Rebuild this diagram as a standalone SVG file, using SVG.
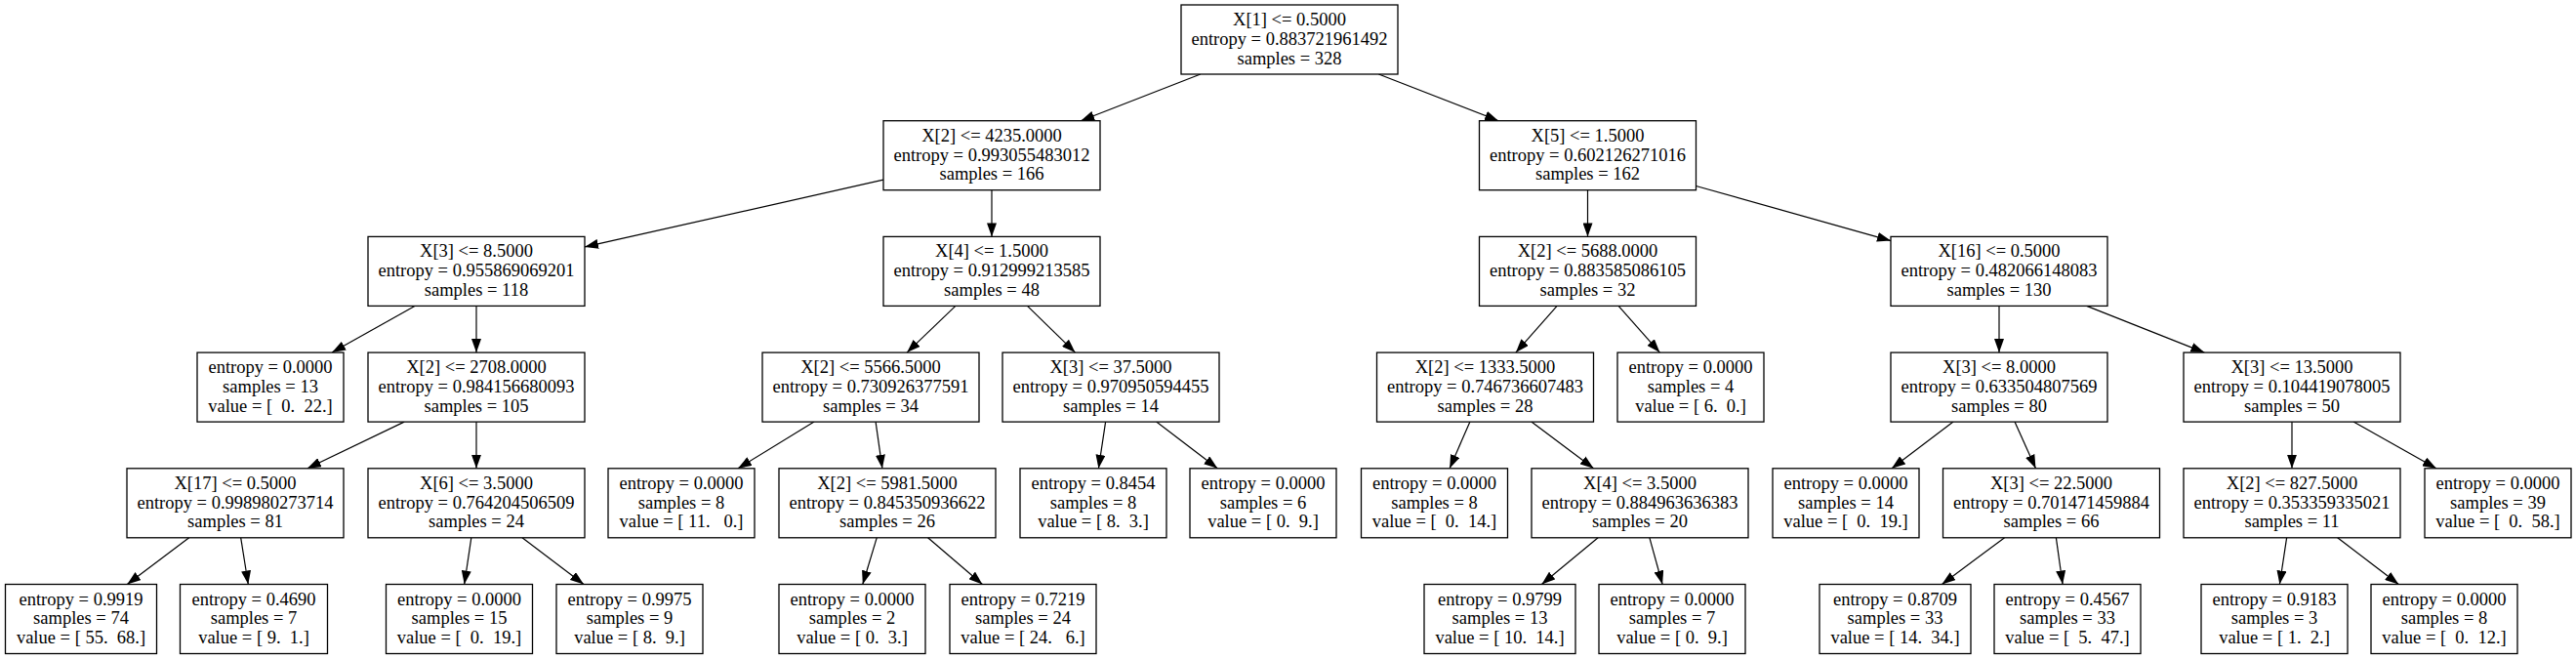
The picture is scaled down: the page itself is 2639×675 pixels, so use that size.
<svg xmlns="http://www.w3.org/2000/svg" width="2639" height="675" viewBox="0 0 2639 675">
<style>
.b{fill:#fff;stroke:#000;stroke-width:1.3}
text{font-family:"Liberation Serif","Times New Roman",serif;font-size:18.5px;fill:#000;text-anchor:middle;white-space:pre}
.e line{stroke:#000;stroke-width:1.2}
</style>
<defs>
<marker id="ah" viewBox="0 0 14 10" refX="14" refY="5" markerWidth="14" markerHeight="10" markerUnits="userSpaceOnUse" orient="auto">
<path d="M0,0 L14,5 L0,10 z" fill="#000"/>
</marker>
</defs>
<rect width="2639" height="675" fill="#fff"/>
<g id="connectors" class="e" marker-end="url(#ah)">
<line x1="1229.8" y1="76" x2="1107.2" y2="123.7" marker-end="url(#ah)"/>
<line x1="1412.4" y1="76" x2="1535.1" y2="123.7" marker-end="url(#ah)"/>
<line x1="905" y1="184.2" x2="599" y2="252.9" marker-end="url(#ah)"/>
<line x1="1016" y1="194.7" x2="1016" y2="242.4" marker-end="url(#ah)"/>
<line x1="1626.5" y1="194.7" x2="1626.5" y2="242.4" marker-end="url(#ah)"/>
<line x1="1737.5" y1="190.5" x2="1937" y2="246.6" marker-end="url(#ah)"/>
<line x1="424.9" y1="313.4" x2="340.1" y2="361.1" marker-end="url(#ah)"/>
<line x1="488" y1="313.4" x2="488" y2="361.1" marker-end="url(#ah)"/>
<line x1="978.9" y1="313.4" x2="929.1" y2="361.1" marker-end="url(#ah)"/>
<line x1="1052.5" y1="313.4" x2="1101.5" y2="361.1" marker-end="url(#ah)"/>
<line x1="1595.1" y1="313.4" x2="1552.9" y2="361.1" marker-end="url(#ah)"/>
<line x1="1658.1" y1="313.4" x2="1700.4" y2="361.1" marker-end="url(#ah)"/>
<line x1="2048" y1="313.4" x2="2048" y2="361.1" marker-end="url(#ah)"/>
<line x1="2137.7" y1="313.4" x2="2258.3" y2="361.1" marker-end="url(#ah)"/>
<line x1="414.1" y1="432.1" x2="314.9" y2="479.8" marker-end="url(#ah)"/>
<line x1="488" y1="432.1" x2="488" y2="479.8" marker-end="url(#ah)"/>
<line x1="834" y1="432.1" x2="756" y2="479.8" marker-end="url(#ah)"/>
<line x1="897.1" y1="432.1" x2="903.9" y2="479.8" marker-end="url(#ah)"/>
<line x1="1132.6" y1="432.1" x2="1125.4" y2="479.8" marker-end="url(#ah)"/>
<line x1="1184.7" y1="432.1" x2="1247.3" y2="479.8" marker-end="url(#ah)"/>
<line x1="1505.9" y1="432.1" x2="1485.1" y2="479.8" marker-end="url(#ah)"/>
<line x1="1568.9" y1="432.1" x2="1632.6" y2="479.8" marker-end="url(#ah)"/>
<line x1="2001" y1="432.1" x2="1938" y2="479.8" marker-end="url(#ah)"/>
<line x1="2064" y1="432.1" x2="2085.5" y2="479.8" marker-end="url(#ah)"/>
<line x1="2348" y1="432.1" x2="2348" y2="479.8" marker-end="url(#ah)"/>
<line x1="2411.1" y1="432.1" x2="2495.9" y2="479.8" marker-end="url(#ah)"/>
<line x1="193.7" y1="550.8" x2="130.3" y2="598.5" marker-end="url(#ah)"/>
<line x1="246.7" y1="550.8" x2="254.3" y2="598.5" marker-end="url(#ah)"/>
<line x1="482.8" y1="550.8" x2="475.7" y2="598.5" marker-end="url(#ah)"/>
<line x1="535" y1="550.8" x2="598" y2="598.5" marker-end="url(#ah)"/>
<line x1="898.2" y1="550.8" x2="883.8" y2="598.5" marker-end="url(#ah)"/>
<line x1="950.6" y1="550.8" x2="1006.4" y2="598.5" marker-end="url(#ah)"/>
<line x1="1637.1" y1="550.8" x2="1579.4" y2="598.5" marker-end="url(#ah)"/>
<line x1="1689.9" y1="550.8" x2="1703.1" y2="598.5" marker-end="url(#ah)"/>
<line x1="2053.6" y1="550.8" x2="1989.4" y2="598.5" marker-end="url(#ah)"/>
<line x1="2106.4" y1="550.8" x2="2113.1" y2="598.5" marker-end="url(#ah)"/>
<line x1="2342.6" y1="550.8" x2="2335.4" y2="598.5" marker-end="url(#ah)"/>
<line x1="2394.7" y1="550.8" x2="2457.3" y2="598.5" marker-end="url(#ah)"/>
</g>
<g id="n0"><rect class="b" x="1210" y="5" width="222" height="71"/><text x="1321" y="26">X[1] &lt;= 0.5000</text><text x="1321" y="45.8">entropy = 0.883721961492</text><text x="1321" y="65.5">samples = 328</text></g>
<g id="n1"><rect class="b" x="905" y="123.7" width="222" height="71"/><text x="1016" y="144.7">X[2] &lt;= 4235.0000</text><text x="1016" y="164.5">entropy = 0.993055483012</text><text x="1016" y="184.2">samples = 166</text></g>
<g id="n2"><rect class="b" x="1515.5" y="123.7" width="222" height="71"/><text x="1626.5" y="144.7">X[5] &lt;= 1.5000</text><text x="1626.5" y="164.5">entropy = 0.602126271016</text><text x="1626.5" y="184.2">samples = 162</text></g>
<g id="n3"><rect class="b" x="377" y="242.4" width="222" height="71"/><text x="488" y="263.4">X[3] &lt;= 8.5000</text><text x="488" y="283.2">entropy = 0.955869069201</text><text x="488" y="302.9">samples = 118</text></g>
<g id="n4"><rect class="b" x="905" y="242.4" width="222" height="71"/><text x="1016" y="263.4">X[4] &lt;= 1.5000</text><text x="1016" y="283.2">entropy = 0.912999213585</text><text x="1016" y="302.9">samples = 48</text></g>
<g id="n5"><rect class="b" x="1515.5" y="242.4" width="222" height="71"/><text x="1626.5" y="263.4">X[2] &lt;= 5688.0000</text><text x="1626.5" y="283.2">entropy = 0.883585086105</text><text x="1626.5" y="302.9">samples = 32</text></g>
<g id="n6"><rect class="b" x="1937" y="242.4" width="222" height="71"/><text x="2048" y="263.4">X[16] &lt;= 0.5000</text><text x="2048" y="283.2">entropy = 0.482066148083</text><text x="2048" y="302.9">samples = 130</text></g>
<g id="n7"><rect class="b" x="202" y="361.1" width="150" height="71"/><text x="277" y="382.1">entropy = 0.0000</text><text x="277" y="401.9">samples = 13</text><text x="277" y="421.6">value = [  0.  22.]</text></g>
<g id="n8"><rect class="b" x="377" y="361.1" width="222" height="71"/><text x="488" y="382.1">X[2] &lt;= 2708.0000</text><text x="488" y="401.9">entropy = 0.984156680093</text><text x="488" y="421.6">samples = 105</text></g>
<g id="n9"><rect class="b" x="781" y="361.1" width="222" height="71"/><text x="892" y="382.1">X[2] &lt;= 5566.5000</text><text x="892" y="401.9">entropy = 0.730926377591</text><text x="892" y="421.6">samples = 34</text></g>
<g id="n10"><rect class="b" x="1027" y="361.1" width="222" height="71"/><text x="1138" y="382.1">X[3] &lt;= 37.5000</text><text x="1138" y="401.9">entropy = 0.970950594455</text><text x="1138" y="421.6">samples = 14</text></g>
<g id="n11"><rect class="b" x="1410.5" y="361.1" width="222" height="71"/><text x="1521.5" y="382.1">X[2] &lt;= 1333.5000</text><text x="1521.5" y="401.9">entropy = 0.746736607483</text><text x="1521.5" y="421.6">samples = 28</text></g>
<g id="n12"><rect class="b" x="1657" y="361.1" width="150" height="71"/><text x="1732" y="382.1">entropy = 0.0000</text><text x="1732" y="401.9">samples = 4</text><text x="1732" y="421.6">value = [ 6.  0.]</text></g>
<g id="n13"><rect class="b" x="1937" y="361.1" width="222" height="71"/><text x="2048" y="382.1">X[3] &lt;= 8.0000</text><text x="2048" y="401.9">entropy = 0.633504807569</text><text x="2048" y="421.6">samples = 80</text></g>
<g id="n14"><rect class="b" x="2237" y="361.1" width="222" height="71"/><text x="2348" y="382.1">X[3] &lt;= 13.5000</text><text x="2348" y="401.9">entropy = 0.104419078005</text><text x="2348" y="421.6">samples = 50</text></g>
<g id="n15"><rect class="b" x="130" y="479.8" width="222" height="71"/><text x="241" y="500.8">X[17] &lt;= 0.5000</text><text x="241" y="520.6">entropy = 0.998980273714</text><text x="241" y="540.3">samples = 81</text></g>
<g id="n16"><rect class="b" x="377" y="479.8" width="222" height="71"/><text x="488" y="500.8">X[6] &lt;= 3.5000</text><text x="488" y="520.6">entropy = 0.764204506509</text><text x="488" y="540.3">samples = 24</text></g>
<g id="n17"><rect class="b" x="623" y="479.8" width="150" height="71"/><text x="698" y="500.8">entropy = 0.0000</text><text x="698" y="520.6">samples = 8</text><text x="698" y="540.3">value = [ 11.   0.]</text></g>
<g id="n18"><rect class="b" x="798" y="479.8" width="222" height="71"/><text x="909" y="500.8">X[2] &lt;= 5981.5000</text><text x="909" y="520.6">entropy = 0.845350936622</text><text x="909" y="540.3">samples = 26</text></g>
<g id="n19"><rect class="b" x="1045" y="479.8" width="150" height="71"/><text x="1120" y="500.8">entropy = 0.8454</text><text x="1120" y="520.6">samples = 8</text><text x="1120" y="540.3">value = [ 8.  3.]</text></g>
<g id="n20"><rect class="b" x="1219" y="479.8" width="150" height="71"/><text x="1294" y="500.8">entropy = 0.0000</text><text x="1294" y="520.6">samples = 6</text><text x="1294" y="540.3">value = [ 0.  9.]</text></g>
<g id="n21"><rect class="b" x="1394.5" y="479.8" width="150" height="71"/><text x="1469.5" y="500.8">entropy = 0.0000</text><text x="1469.5" y="520.6">samples = 8</text><text x="1469.5" y="540.3">value = [  0.  14.]</text></g>
<g id="n22"><rect class="b" x="1569" y="479.8" width="222" height="71"/><text x="1680" y="500.8">X[4] &lt;= 3.5000</text><text x="1680" y="520.6">entropy = 0.884963636383</text><text x="1680" y="540.3">samples = 20</text></g>
<g id="n23"><rect class="b" x="1816" y="479.8" width="150" height="71"/><text x="1891" y="500.8">entropy = 0.0000</text><text x="1891" y="520.6">samples = 14</text><text x="1891" y="540.3">value = [  0.  19.]</text></g>
<g id="n24"><rect class="b" x="1990.5" y="479.8" width="222" height="71"/><text x="2101.5" y="500.8">X[3] &lt;= 22.5000</text><text x="2101.5" y="520.6">entropy = 0.701471459884</text><text x="2101.5" y="540.3">samples = 66</text></g>
<g id="n25"><rect class="b" x="2237" y="479.8" width="222" height="71"/><text x="2348" y="500.8">X[2] &lt;= 827.5000</text><text x="2348" y="520.6">entropy = 0.353359335021</text><text x="2348" y="540.3">samples = 11</text></g>
<g id="n26"><rect class="b" x="2484" y="479.8" width="150" height="71"/><text x="2559" y="500.8">entropy = 0.0000</text><text x="2559" y="520.6">samples = 39</text><text x="2559" y="540.3">value = [  0.  58.]</text></g>
<g id="n27"><rect class="b" x="5.5" y="598.5" width="155" height="71"/><text x="83" y="619.5">entropy = 0.9919</text><text x="83" y="639.3">samples = 74</text><text x="83" y="659">value = [ 55.  68.]</text></g>
<g id="n28"><rect class="b" x="184.5" y="598.5" width="151" height="71"/><text x="260" y="619.5">entropy = 0.4690</text><text x="260" y="639.3">samples = 7</text><text x="260" y="659">value = [ 9.  1.]</text></g>
<g id="n29"><rect class="b" x="395.5" y="598.5" width="150" height="71"/><text x="470.5" y="619.5">entropy = 0.0000</text><text x="470.5" y="639.3">samples = 15</text><text x="470.5" y="659">value = [  0.  19.]</text></g>
<g id="n30"><rect class="b" x="570" y="598.5" width="150" height="71"/><text x="645" y="619.5">entropy = 0.9975</text><text x="645" y="639.3">samples = 9</text><text x="645" y="659">value = [ 8.  9.]</text></g>
<g id="n31"><rect class="b" x="798" y="598.5" width="150" height="71"/><text x="873" y="619.5">entropy = 0.0000</text><text x="873" y="639.3">samples = 2</text><text x="873" y="659">value = [ 0.  3.]</text></g>
<g id="n32"><rect class="b" x="973" y="598.5" width="150" height="71"/><text x="1048" y="619.5">entropy = 0.7219</text><text x="1048" y="639.3">samples = 24</text><text x="1048" y="659">value = [ 24.   6.]</text></g>
<g id="n33"><rect class="b" x="1459" y="598.5" width="155" height="71"/><text x="1536.5" y="619.5">entropy = 0.9799</text><text x="1536.5" y="639.3">samples = 13</text><text x="1536.5" y="659">value = [ 10.  14.]</text></g>
<g id="n34"><rect class="b" x="1638" y="598.5" width="150" height="71"/><text x="1713" y="619.5">entropy = 0.0000</text><text x="1713" y="639.3">samples = 7</text><text x="1713" y="659">value = [ 0.  9.]</text></g>
<g id="n35"><rect class="b" x="1864" y="598.5" width="155" height="71"/><text x="1941.5" y="619.5">entropy = 0.8709</text><text x="1941.5" y="639.3">samples = 33</text><text x="1941.5" y="659">value = [ 14.  34.]</text></g>
<g id="n36"><rect class="b" x="2043" y="598.5" width="150" height="71"/><text x="2118" y="619.5">entropy = 0.4567</text><text x="2118" y="639.3">samples = 33</text><text x="2118" y="659">value = [  5.  47.]</text></g>
<g id="n37"><rect class="b" x="2255" y="598.5" width="150" height="71"/><text x="2330" y="619.5">entropy = 0.9183</text><text x="2330" y="639.3">samples = 3</text><text x="2330" y="659">value = [ 1.  2.]</text></g>
<g id="n38"><rect class="b" x="2429" y="598.5" width="150" height="71"/><text x="2504" y="619.5">entropy = 0.0000</text><text x="2504" y="639.3">samples = 8</text><text x="2504" y="659">value = [  0.  12.]</text></g>
</svg>
